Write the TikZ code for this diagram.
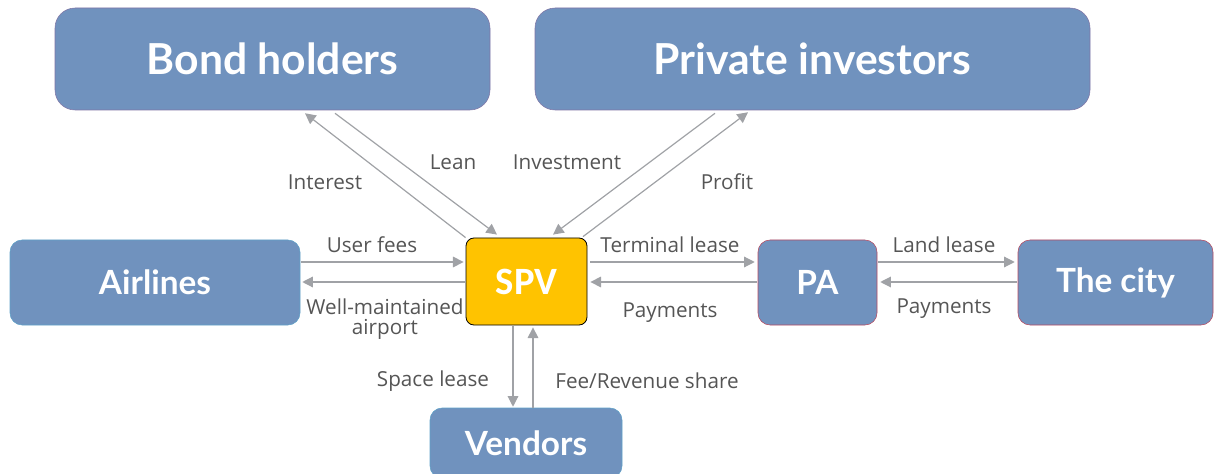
\documentclass[tikz,border=0pt]{standalone}
\usepackage{fontspec}
\setmainfont{Open Sans}
\newfontfamily\nodefont{Lato}
\newfontfamily\spvfont{Carlito}
\usetikzlibrary{calc,arrows.meta}
\definecolor{boxblue}{RGB}{112,146,190}
\definecolor{spvyellow}{RGB}{255,195,0}
\definecolor{arrgray}{RGB}{160,162,166}
\definecolor{lblgray}{RGB}{85,85,85}
\tikzset{
  bigbox/.style={fill=boxblue, draw=boxblue!80!purple, line width=0.4pt, rounded corners=15pt, text=white, font=\nodefont\bfseries\fontsize{32}{38}\selectfont, inner sep=0pt},
  midbox/.style={fill=boxblue, draw=boxblue!85!cyan, line width=0.4pt, rounded corners=9pt, text=white, font=\nodefont\bfseries\fontsize{25}{30}\selectfont, inner sep=0pt, minimum height=63.75pt},
  redbox/.style={midbox, draw=red!50!boxblue},
  spvbox/.style={fill=spvyellow, draw=black, line width=0.6pt, rounded corners=6pt, text=white, font=\spvfont\bfseries\fontsize{29}{34}\selectfont, inner sep=0pt},
  arr/.style={draw=arrgray, line width=0.9pt, -{Triangle[length=8pt,width=8pt]}},
  lbl/.style={text=lblgray, font=\fontsize{15.5}{15}\selectfont, inner sep=0pt, align=center}
}
\begin{document}
\begin{tikzpicture}[x=0.75pt,y=-0.75pt]
\useasboundingbox (0,0) rectangle (1218,474);
% nodes
\node[bigbox, minimum width=326.25pt, minimum height=76.5pt] (bond) at (272.5,59) {Bond holders};
\node[bigbox, minimum width=416.25pt, minimum height=76.5pt] (priv) at (812.5,59) {Private investors};
\node[midbox, minimum width=217.5pt] (air) at (155,282.5) {Airlines};
\node[spvbox, minimum width=90.75pt, minimum height=65.25pt] (spv) at (526.5,281.5) {SPV};
\node[redbox, minimum width=89.25pt] (pa) at (817.5,282.5) {PA};
\node[redbox, minimum width=146.25pt] (city) at (1115.5,282.5) {The city};
\node[midbox, minimum width=144pt, minimum height=52.5pt] (ven) at (526,443) {Vendors};
% diagonal arrows
\draw[arr] (spv.north west) -- ($(bond.south)+(32.5,3)$);
\draw[arr] ($(bond.south)+(62.5,3)$) -- ($(spv.north)+(-29.5,-3)$);
\draw[arr] ($(priv.south)+(-97.5,3)$) -- ($(spv.north)+(26.5,-3)$);
\draw[arr] ($(spv.north)+(56.5,-1)$) -- ($(priv.south)+(-64.5,2)$);
% horizontal arrows
\draw[arr] ($(air.east)+(1,-20.5)$) -- ($(spv.west)+(-2,-19.5)$);
\draw[arr] ($(spv.west)+(-1,0.5)$) -- ($(air.east)+(2,-0.5)$);
\draw[arr] ($(spv.east)+(3,-19.5)$) -- ($(pa.west)+(-3,-20.5)$);
\draw[arr] ($(pa.west)+(-1,-0.5)$) -- ($(spv.east)+(3,0.5)$);
\draw[arr] ($(pa.east)+(1,-20.5)$) -- ($(city.west)+(-3,-20.5)$);
\draw[arr] ($(city.west)+(-1,-0.5)$) -- ($(pa.east)+(3,-0.5)$);
% vertical arrows
\draw[arr] ($(spv.south)+(-13.5,1)$) -- ($(ven.north)+(-13,-1)$);
\draw[arr] ($(ven.north)+(7,0)$) -- ($(spv.south)+(6.5,2)$);
% labels
\node[lbl] (l1) at (325,182) {Interest};
\node[lbl] (l2) at (453,162) {Lean};
\node[lbl] (l3) at (567,162) {Investment};
\node[lbl] (l4) at (727,182) {Profit};
\node[lbl] (l5) at (372,245) {User fees};
\node[lbl] (l6) at (385,319) {Well-maintained\\airport};
\node[lbl] (l7) at (670,245) {Terminal lease};
\node[lbl] (l8) at (670,313) {Payments};
\node[lbl] (l9) at (944,245) {Land lease};
\node[lbl] (l10) at (944,309) {Payments};
\node[lbl] (l11) at (433,381) {Space lease};
\node[lbl] (l12) at (647,381) {Fee/Revenue share};
\end{tikzpicture}
\end{document}
